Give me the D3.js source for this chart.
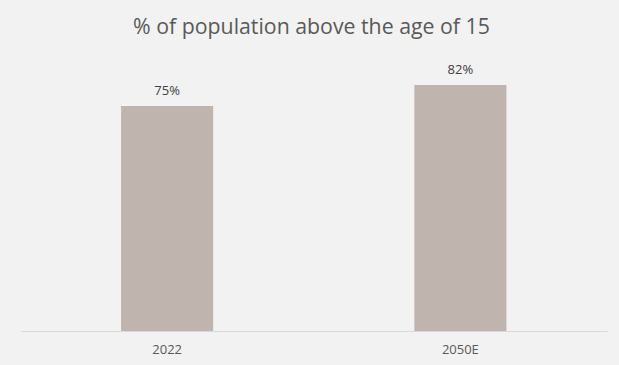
<!doctype html>
<html lang="en">
<head>
  <meta charset="utf-8">
  <title>% of population above the age of 15</title>
  <script src="https://d3js.org/d3.v7.min.js"></script>
  <style>
  body { margin: 0; background: #f2f2f2; }
  .bar { fill: #bfb4ae; }
  text { font-family: "Open Sans", "Noto Sans", sans-serif; }
  </style>
</head>
<body>
<div id="chart"></div>
<script>
  // data
  var categories = ["2022", "2050E"];
  var values = [75, 82];
  var valueLabels = ["75%", "82%"];
  var title = "% of population above the age of 15";

  var width = 619, height = 365;
  var margin = {top: 61, right: 12, bottom: 34, left: 20.5};

  var svg = d3.select("#chart").append("svg")
      .attr("width", width)
      .attr("height", height);

  svg.append("rect")
      .attr("width", width)
      .attr("height", height)
      .attr("fill", "#f2f2f2");

  var x = d3.scaleBand()
      .domain(categories)
      .range([margin.left, width - margin.right])
      .paddingInner(0.686)
      .paddingOuter(0.343);

  var y = d3.scaleLinear()
      .domain([0, 90])
      .range([height - margin.bottom, margin.top]);

  // title
  svg.append("text")
      .attr("x", width / 2 + 2)
      .attr("y", 34)
      .attr("text-anchor", "middle")
      .attr("fill", "#595959")
      .style("font-size", "21.3px")
      .text(title);

  var data = categories.map(function(c, i) { return {cat: c, value: values[i], label: valueLabels[i]}; });

  svg.selectAll(".bar")
      .data(data)
    .enter().append("rect")
      .attr("class", "bar")
      .attr("x", function(d) { return x(d.cat); })
      .attr("width", x.bandwidth())
      .attr("y", function(d) { return y(d.value); })
      .attr("height", function(d) { return y(0) - y(d.value); });

  // value labels
  svg.selectAll(".lbl")
      .data(data)
    .enter().append("text")
      .attr("class", "lbl")
      .attr("x", function(d) { return x(d.cat) + x.bandwidth() / 2; })
      .attr("y", function(d) { return y(d.value) - 11; })
      .attr("text-anchor", "middle")
      .attr("fill", "#404040")
      .style("font-size", "13px")
      .text(function(d) { return d.label; });

  // x axis
  var xAxis = svg.append("g")
      .attr("transform", "translate(0," + y(0) + ")")
      .call(d3.axisBottom(x).tickSize(0).tickPadding(14).tickSizeOuter(0));
  xAxis.select(".domain").attr("stroke", "#d9d9d9");
  xAxis.selectAll("text")
      .attr("fill", "#595959")
      .style("font-size", "13px")
      .style("font-family", "'Open Sans', 'Noto Sans', sans-serif");
</script>
</body>
</html>
